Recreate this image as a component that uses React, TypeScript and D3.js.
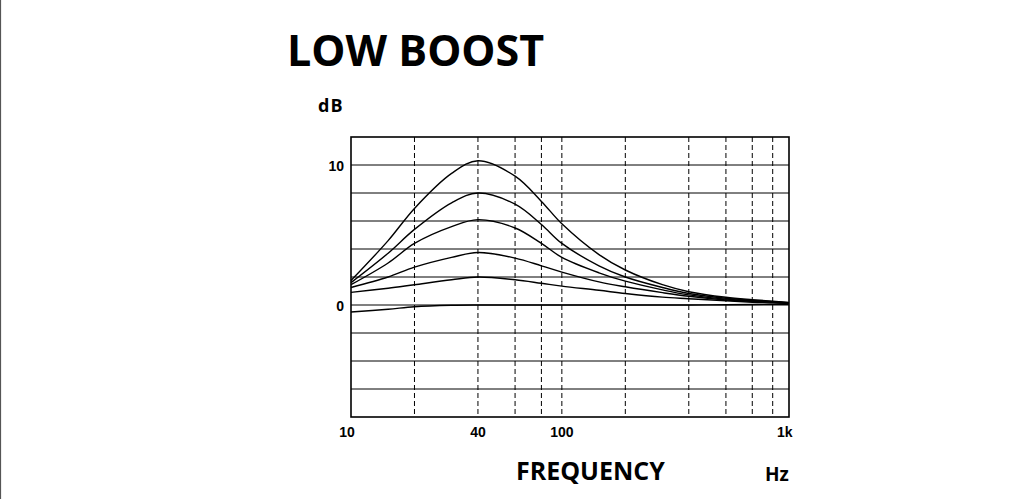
import React from 'react';
import * as d3 from 'd3';

// frequencies (Hz) where the response curves are sampled
const freqs = [10, 15, 20, 30, 40, 60, 80, 100, 150, 200, 300, 400, 600, 800, 1000, 1190];

// gain curves in dB, one per boost setting
const boost5 = [1.75, 4.6, 6.9, 9.4, 10.3, 9.2, 7.4, 5.8, 3.6, 2.5, 1.45, 0.95, 0.55, 0.38, 0.27, 0.18];
const boost4 = [1.6, 3.7, 5.4, 7.3, 8.0, 7.2, 5.75, 4.4, 2.8, 2.0, 1.25, 0.82, 0.48, 0.33, 0.24, 0.16];
const boost3 = [1.45, 3.0, 4.4, 5.6, 6.1, 5.5, 4.4, 3.4, 2.3, 1.7, 1.08, 0.72, 0.42, 0.3, 0.21, 0.14];
const boost2 = [1.25, 2.0, 2.7, 3.4, 3.75, 3.35, 2.8, 2.35, 1.65, 1.3, 0.88, 0.62, 0.36, 0.26, 0.19, 0.12];
const boost1 = [0.9, 1.2, 1.45, 1.8, 2.0, 1.8, 1.55, 1.35, 1.05, 0.82, 0.56, 0.45, 0.3, 0.2, 0.15, 0.1];
const boost0 = [-0.5, -0.3, -0.12, -0.02, 0, 0, 0, 0, 0, 0, 0, 0, 0.02, 0.04, 0.05, 0.05];
const series = [boost5, boost4, boost3, boost2, boost1, boost0];

const gridFreqs = [20, 40, 60, 80, 100, 200, 400, 600, 800, 1000];
const gridDb = [-6, -4, -2, 0, 2, 4, 6, 8, 10];
const xTicks = [10, 40, 100, 1000];
const xTickLabels = ['10', '40', '100', '1k'];
const yTicks = [10, 0];

const W = 1009;
const H = 499;
const left = 351;
const right = 789;
const top = 137;
const bottom = 417;

export default function App() {
  // 10 Hz .. 1 kHz spans 351..772.7, plot frame continues past 1k
  const x = d3.scaleLog().domain([10, 1000]).range([left, 772.7]);
  const y = d3.scaleLinear().domain([-8, 12]).range([bottom, top]);

  const line = d3
    .line<number>()
    .x((_, i) => x(freqs[i]))
    .y((d) => y(d))
    .curve(d3.curveCatmullRom.alpha(0.5));

  const sans = "'Open Sans', 'Noto Sans', sans-serif";
  const arial = "'Liberation Sans', Arial, sans-serif";

  return (
    <svg
      width={W}
      height={H}
      style={{ position: 'absolute', left: 0, top: 0, display: 'block', background: '#fff' }}
    >
      <line x1={0.5} x2={0.5} y1={0} y2={H} stroke="#555" strokeWidth={1.2} />

      <text x={287} y={66} fontFamily={sans} fontWeight={700} fontSize={43} fill="#000">
        LOW BOOST
      </text>
      <text x={318} y={112} fontFamily={sans} fontWeight={700} fontSize={18} letterSpacing={1} fill="#000">
        dB
      </text>

      {gridDb.map((d) => (
        <line key={'h' + d} x1={left} x2={right} y1={y(d)} y2={y(d)} stroke="#000" strokeWidth={1} />
      ))}
      {gridFreqs.map((f) => (
        <line
          key={'v' + f}
          x1={x(f)}
          x2={x(f)}
          y1={top}
          y2={bottom}
          stroke="#000"
          strokeWidth={1}
          strokeDasharray="5,3"
        />
      ))}

      {series.map((s, i) => (
        <path key={i} d={line(s) || ''} fill="none" stroke="#000" strokeWidth={1.4} />
      ))}

      <rect x={left} y={top} width={right - left} height={bottom - top} fill="none" stroke="#000" strokeWidth={1.6} />

      {yTicks.map((t) => (
        <text
          key={'yt' + t}
          x={344}
          y={y(t) + 6}
          textAnchor="end"
          fontFamily={arial}
          fontWeight={700}
          fontSize={14}
          fill="#000"
        >
          {t}
        </text>
      ))}
      {xTicks.map((t, i) => (
        <text
          key={'xt' + t}
          x={i === 0 ? x(t) - 4 : i === xTicks.length - 1 ? x(t) + 12 : x(t)}
          y={437}
          textAnchor="middle"
          fontFamily={arial}
          fontWeight={700}
          fontSize={14}
          fill="#000"
        >
          {xTickLabels[i]}
        </text>
      ))}

      <text x={516} y={480} fontFamily={sans} fontWeight={700} fontSize={25} fill="#000">
        FREQUENCY
      </text>
      <text x={765} y={481} fontFamily={sans} fontWeight={700} fontSize={19} fill="#000">
        Hz
      </text>
    </svg>
  );
}
